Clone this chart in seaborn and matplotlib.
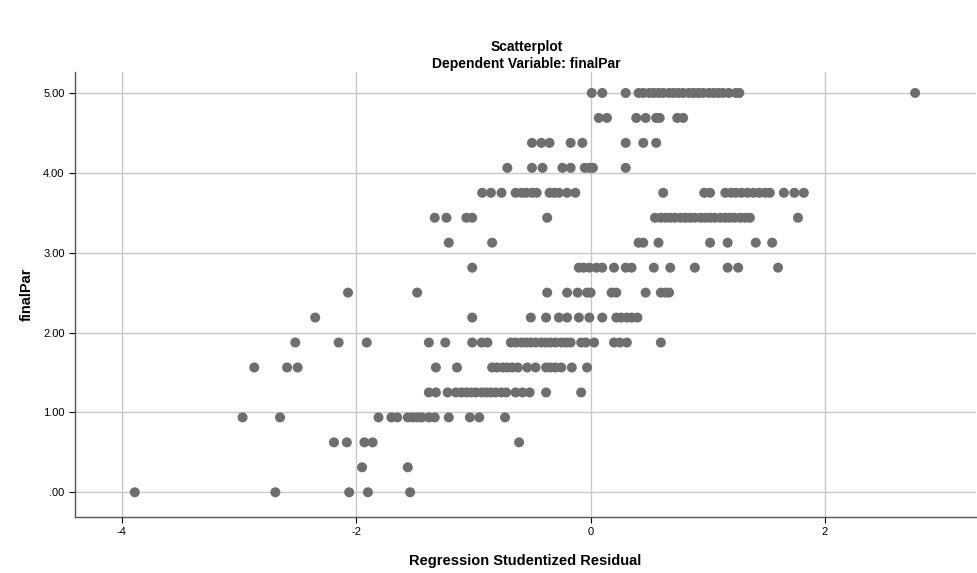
import matplotlib
matplotlib.use("Agg")
import matplotlib.pyplot as plt
import numpy as np
import pandas as pd
import seaborn as sns

# studentized residuals, one list per finalPar level
res_500 = [0.01, 0.10, 0.30, 0.41, 0.45, 0.50, 0.54, 0.58, 0.62, 0.67, 0.71, 0.75, 0.79,
           0.84, 0.88, 0.92, 0.96, 1.01, 1.05, 1.09, 1.13, 1.18, 1.24, 1.27, 2.77]
res_469 = [0.07, 0.14, 0.39, 0.47, 0.56, 0.59, 0.74, 0.79]
res_438 = [-0.50, -0.42, -0.35, -0.17, -0.07, 0.30, 0.45, 0.56]
res_406 = [-0.71, -0.50, -0.41, -0.24, -0.17, -0.05, -0.01, 0.02, 0.30]
res_375 = [-0.925, -0.85, -0.76, -0.64, -0.59, -0.55, -0.50, -0.46, -0.35, -0.31, -0.27,
           -0.20, -0.13, 0.62, 0.97, 1.02, 1.15, 1.20, 1.24, 1.29, 1.34, 1.39, 1.44, 1.49,
           1.53, 1.65, 1.74, 1.82]
res_344 = [-1.33, -1.23, -1.06, -1.01, -0.37, 0.55, 0.60, 0.64, 0.68, 0.72, 0.77, 0.81,
           0.85, 0.89, 0.94, 0.98, 1.02, 1.06, 1.11, 1.15, 1.19, 1.23, 1.28, 1.32, 1.36,
           1.77]
res_313 = [-1.21, -0.84, 0.41, 0.45, 0.58, 1.02, 1.17, 1.41, 1.55]
res_281 = [-1.01, -0.10, -0.06, -0.01, 0.05, 0.10, 0.20, 0.30, 0.35, 0.54, 0.68, 0.89,
           1.17, 1.26, 1.60]
res_250 = [-2.07, -1.48, -0.37, -0.20, -0.11, -0.03, 0.00, 0.18, 0.22, 0.47, 0.60, 0.64,
           0.67]
res_219 = [-2.35, -1.01, -0.51, -0.38, -0.27, -0.20, -0.10, -0.01, 0.10, 0.22, 0.26,
           0.31, 0.35, 0.40]
res_188 = [-2.52, -2.15, -1.91, -1.38, -1.24, -1.01, -0.93, -0.88, -0.68, -0.64, -0.59,
           -0.55, -0.51, -0.47, -0.42, -0.38, -0.34, -0.30, -0.25, -0.21, -0.17, -0.08,
           -0.04, 0.03, 0.20, 0.25, 0.31, 0.60]
res_156 = [-2.87, -2.59, -2.50, -1.32, -1.14, -0.84, -0.80, -0.75, -0.71, -0.67, -0.62,
           -0.54, -0.47, -0.38, -0.34, -0.30, -0.25, -0.16, -0.03]
res_125 = [-1.38, -1.32, -1.22, -1.15, -1.10, -1.06, -1.02, -0.98, -0.93, -0.89, -0.85,
           -0.81, -0.76, -0.72, -0.64, -0.58, -0.52, -0.38, -0.08]
res_094 = [-2.97, -2.65, -1.81, -1.70, -1.65, -1.56, -1.52, -1.48, -1.44, -1.38, -1.33,
           -1.21, -1.03, -0.95, -0.73]
res_063 = [-2.19, -2.08, -1.93, -1.86, -0.61]
res_031 = [-1.95, -1.56]
res_000 = [-3.89, -2.69, -2.06, -1.90, -1.54]

levels = [5.0, 4.6875, 4.375, 4.0625, 3.75, 3.4375, 3.125, 2.8125, 2.5, 2.1875, 1.875,
          1.5625, 1.25, 0.9375, 0.625, 0.3125, 0.0]
groups = [res_500, res_469, res_438, res_406, res_375, res_344, res_313, res_281, res_250,
          res_219, res_188, res_156, res_125, res_094, res_063, res_031, res_000]

y_ticks = [0, 1, 2, 3, 4, 5]
y_labels = [".00", "1.00", "2.00", "3.00", "4.00", "5.00"]
x_ticks = [-4, -2, 0, 2]

rows = []
for lev, g in zip(levels, groups):
    for r in g:
        rows.append({"resid": r, "finalPar": lev})
df = pd.DataFrame(rows)

sns.set_style("white")
plt.rcParams['font.family'] = ['Liberation Sans', 'DejaVu Sans']
plt.rcParams['text.color'] = 'black'
plt.rcParams['axes.labelcolor'] = 'black'

fig = plt.figure(figsize=(9.78, 5.73), dpi=100)
ax = fig.add_axes([0.0767, 0.0977, 0.9213, 0.7763])

ax.grid(True, color="#c8c8c8", linewidth=1.0)
ax.set_axisbelow(True)
sns.scatterplot(data=df, x="resid", y="finalPar", ax=ax, color="#6e6e6e",
                s=52, edgecolor="none", linewidth=0, zorder=3)

ax.set_xlim(-4.40, 3.29)
ax.set_ylim(-0.31, 5.26)
ax.set_xticks(x_ticks)
ax.set_xticklabels([str(t) for t in x_ticks])
ax.set_yticks(y_ticks)
ax.set_yticklabels(y_labels)
ax.tick_params(axis="both", labelsize=8, colors="#000000", length=4, width=0.8,
               direction="out", bottom=True, left=True)

for side in ["top", "right"]:
    ax.spines[side].set_visible(False)
for side in ["left", "bottom"]:
    ax.spines[side].set_color("#555555")
    ax.spines[side].set_linewidth(1.0)

ax.set_xlabel("Regression Studentized Residual", fontsize=10.5, fontweight="bold", labelpad=12)
ax.set_ylabel("finalPar", fontsize=10.5, fontweight="bold", labelpad=7)

fig.text(0.5384, 1 - 47 / 573, "Scatterplot", ha="center", va="center",
         fontsize=10, fontweight="bold")
fig.text(0.5384, 1 - 64 / 573, "Dependent Variable: finalPar", ha="center", va="center",
         fontsize=10, fontweight="bold")

fig.savefig("out.png", dpi=100)
